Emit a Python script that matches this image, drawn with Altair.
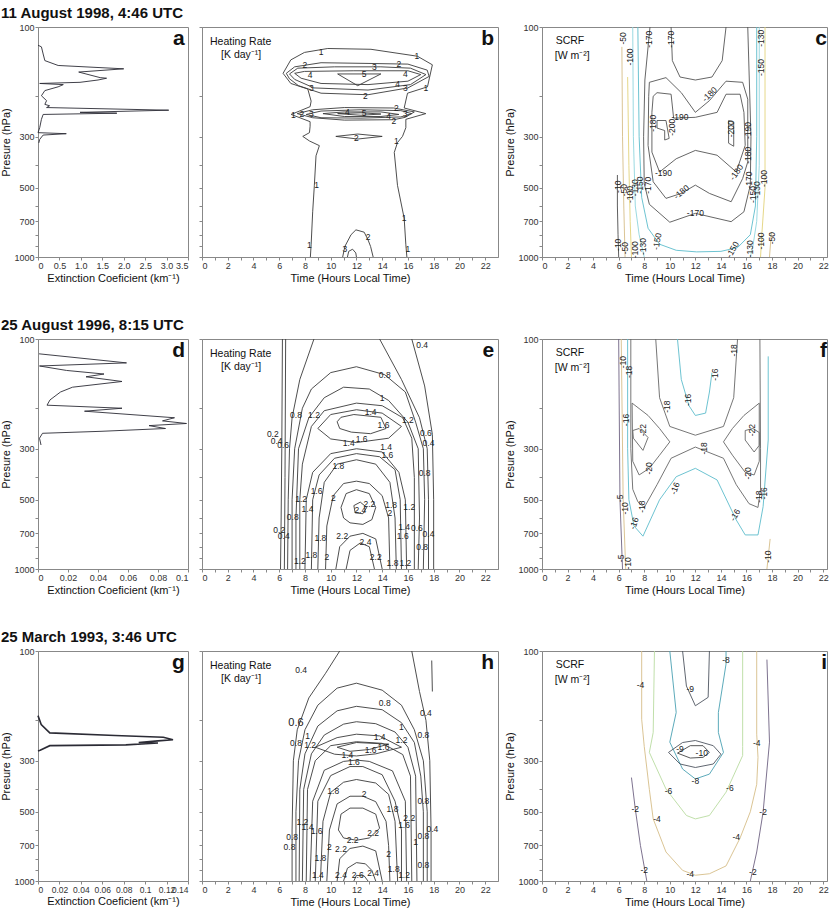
import altair as alt
import pandas as pd

FONT = "Liberation Sans"

# ---------------- titles ----------------
row_titles = ["11 August 1998, 4:46 UTC", "25 August 1996, 8:15 UTC", "25 March 1993, 3:46 UTC"]
letters = [["a", "b", "c"], ["d", "e", "f"], ["g", "h", "i"]]

# ---------------- extinction profiles (km-1, hPa) ----------------
a_ext = [0.0, 0.08, 0.12, 0.16, 0.47, 2.0, 0.95, 1.45, 1.6, 1.4, 0.98, 0.04, 0.59, 0.47, 0.16, 0.08, 0.2, 0.16,
         0.27, 0.2, 3.05, 0.98, 1.84, 0.12, 0.08, 0.04, 0.0, 0.66, 0.12, 0.04, 0.02]
a_pres = [120, 122, 131, 140, 147, 152, 157, 166, 167, 170, 174, 176, 178, 182, 189, 199, 209, 217,
          220, 224, 230, 235, 237, 240, 252, 274, 288, 291, 295, 308, 319]
d_ext = [0.0007, 0.059, 0.001, 0.019, 0.044, 0.032, 0.056, 0.023, 0.015, 0.008, 0.006, 0.056, 0.031,
         0.091, 0.083, 0.099, 0.074, 0.085, 0.042, 0.003, 0.001, 0.002]
d_pres = [116, 127, 131, 137, 142, 146, 153, 162, 170, 184, 194, 200, 206, 220, 227, 233, 238, 245, 252,
          257, 270, 289]
g_ext = [0.0, 0.003, 0.011, 0.072, 0.117, 0.126, 0.112, 0.094, 0.112, 0.082, 0.011, 0.002, 0.0]
g_pres = [191, 209, 227, 233, 237, 243, 246, 250, 251, 256, 258, 270, 272]

# ---------------- contour colours ----------------
K = "#3a3a3a"
TAN = "#d6bd88"
YEL = "#e2d27a"
CY1 = "#8fd5de"
CY2 = "#5cbccc"
PUR = "#6e6282"
GRN = "#b9dba0"
TEAL = "#4aa0b2"

# ---------------- panel b: heating rate, 11 Aug 1998 (hour, hPa) ----------------
b_lines = [
    ("1", K, [(8.42, 1000), (8.48, 885), (8.6, 636), (8.73, 488), (8.86, 363), (9.12, 328), (8.35, 313), (7.83, 299),
              (8.35, 288), (8.4, 270), (8.4, 258), (6.93, 240), (8.4, 222), (8.48, 210), (8.22, 186), (6.9, 176),
              (6.3, 159), (6.9, 139), (7.96, 129), (9.77, 124), (13.13, 125), (16.74, 134), (17.9, 146),
              (17.52, 182), (15.97, 194), (15.71, 225), (17.39, 238), (15.84, 252), (15.84, 274), (15.58, 299),
              (15.19, 318), (14.94, 351), (15.19, 488), (15.71, 679), (15.84, 885), (15.92, 1000)]),
    ("2", K, [(6.55, 159), (7.2, 149), (9.25, 143), (12.9, 144), (16.0, 145), (17.5, 154), (17.65, 164), (16.0, 184),
              (12.9, 197), (9.25, 194), (7.5, 180), (6.8, 168), (6.55, 159)]),
    ("3", K, [(6.8, 160), (7.44, 151), (10.3, 149), (13.9, 149), (16.2, 151), (17.4, 161), (16.2, 178), (12.9, 188),
              (8.7, 184), (7.2, 169), (6.8, 160)]),
    ("4", K, [(7.2, 159), (7.96, 156), (11.8, 155), (16.0, 155), (17.0, 161), (16.0, 172), (12.9, 178), (9.25, 176),
              (7.7, 167), (7.2, 159)]),
    ("5", K, [(10.54, 160), (13.9, 160), (12.1, 180), (10.54, 160)]),
    ("2", K, [(7.4, 238), (8.6, 229), (11.06, 224), (14.9, 225), (16.5, 234), (15.8, 247), (14.9, 253), (11.06, 254),
              (8.6, 248), (7.4, 238)]),
    ("3", K, [(8.1, 240), (9.25, 232), (12.35, 229), (15.45, 231), (16.3, 238), (15.45, 246), (12.35, 249),
              (9.25, 248), (8.1, 240)]),
    ("4", K, [(9.4, 238), (11.06, 234), (13.9, 234), (15.3, 240), (13.9, 245), (11.06, 245), (9.4, 238)]),
    ("5", K, [(10.54, 238), (12.35, 236), (13.9, 239), (12.35, 242), (10.54, 238)]),
    ("2", K, [(10.4, 299), (12.1, 292), (14.0, 299), (12.1, 307), (10.4, 299)]),
    ("2", K, [(10.93, 1000), (11.1, 900), (11.58, 800), (11.96, 762), (12.6, 780), (12.9, 842), (13.1, 900),
              (13.3, 1000)]),
    ("3", K, [(11.3, 1000), (11.4, 945), (11.7, 925), (11.95, 960), (12.0, 1000)]),
]
b_labels = [(9.25, 128, "1", 0), (16.7, 134, "1", 0), (8.0, 147, "2", 0), (13.4, 149, "3", 0), (15.3, 145, "2", 0),
            (8.4, 161, "4", 0), (12.6, 160, "5", 0), (15.8, 160, "4", 0), (15.2, 177, "4", 0), (8.5, 184, "3", 0),
            (15.8, 184, "3", 0), (17.4, 184, "1", 0), (12.7, 199, "2", 0), (7.1, 241, "1", 0), (7.75, 238, "2", 0),
            (8.5, 240, "3", 0), (11.3, 234, "4", 0), (12.6, 236, "5", 0), (15.1, 226, "2", 0), (15.8, 238, "3", 0),
            (14.5, 244, "4", 0), (14.9, 256, "2", 0), (12.0, 305, "2", 0), (15.1, 313, "1", 0), (8.9, 485, "1", 0),
            (15.7, 679, "1", 0), (8.35, 885, "1", 0), (12.9, 815, "2", 0), (11.1, 921, "3", 0), (16.0, 921, "1", 0)]

# ---------------- panel c: SCRF, 11 Aug 1998 ----------------
c_lines = [
    ("-10", "#4d4d4d", [(5.9, 440), (5.9, 600), (5.95, 800), (6.0, 1000)]),
    ("-50", TAN, [(6.25, 122), (6.3, 300), (6.4, 600), (6.5, 1000)]),
    ("-100", YEL, [(6.7, 165), (6.8, 400), (6.9, 700), (7.0, 1000)]),
    ("-130", CY1, [(7.1, 100), (7.15, 300), (7.3, 600), (7.6, 800), (8.0, 1000)]),
    ("-150", CY2, [(7.5, 100), (7.6, 300), (7.8, 550), (8.3, 750), (9.2, 880), (10.5, 935), (12.1, 950), (14.0, 945),
                   (15.3, 910), (16.3, 800), (16.7, 600), (16.8, 300), (16.8, 100)]),
    ("-130", CY1, [(17.0, 100), (17.0, 400), (16.8, 700), (16.5, 900), (16.3, 1000)]),
    ("-100", YEL, [(17.45, 100), (17.45, 500), (17.2, 800), (17.1, 1000)]),
    ("-50", TAN, [(17.95, 780), (17.8, 1000)]),
    ("-170", "#555555", [(8.45, 100), (8.05, 170), (7.95, 300), (8.0, 480), (8.4, 590), (10.0, 706), (12.0, 646),
                         (14.8, 702), (15.8, 636), (16.3, 487), (16.35, 300), (16.1, 100)]),
    ("-170", "#555555", [(10.1, 100), (10.2, 140), (10.8, 165), (12.0, 170), (13.3, 165), (14.1, 140), (14.4, 100)]),
    ("-180", "#555555", [(8.4, 174), (9.7, 166), (10.9, 193), (12.0, 235), (13.1, 209), (14.4, 172), (15.7, 174),
                         (16.1, 206), (16.1, 386), (15.7, 456), (14.8, 575), (13.1, 529), (12.0, 487), (10.9, 529),
                         (9.7, 556), (8.7, 471), (8.3, 327), (8.35, 200), (8.4, 174)]),
    ("-190", "#555555", [(9.0, 193), (10.1, 196), (10.3, 249), (12.0, 247), (13.7, 235), (14.4, 196), (15.5, 196),
                         (15.8, 235), (15.9, 327), (15.2, 427), (13.7, 361), (12.0, 344), (10.5, 374), (9.2, 427),
                         (8.6, 350), (8.6, 235), (8.7, 200), (9.0, 193)]),
    ("-200", "#555555", [(9.0, 255), (9.7, 255), (9.95, 305), (9.6, 310), (9.6, 282), (9.0, 275), (9.0, 255)]),
    ("-200", "#555555", [(14.6, 255), (15.0, 260), (15.0, 330), (14.6, 320), (14.6, 255)]),
]
c_labels = [(6.35, 112, "-50", 270), (6.9, 135, "-100", 270), (8.4, 113, "-170", 270), (10.1, 113, "-170", 270),
            (17.1, 112, "-130", 270), (17.1, 150, "-150", 270), (13.1, 196, "-180", 315), (10.8, 245, "-190", 0),
            (10.2, 273, "-200", 270), (14.8, 277, "-200", 270), (8.7, 262, "-180", 270), (16.1, 282, "-190", 270),
            (9.5, 432, "-190", 0), (15.2, 428, "-180", 305), (16.1, 361, "-180", 270), (10.9, 521, "-180", 320),
            (16.2, 463, "-170", 270), (12.0, 646, "-170", 0), (5.95, 495, "-10", 270), (6.4, 512, "-50", 270),
            (6.9, 535, "-100", 270), (7.3, 500, "-130", 270), (7.7, 487, "-150", 270), (8.3, 488, "-170", 270),
            (16.5, 535, "-150", 270), (16.85, 510, "-130", 270), (17.4, 456, "-100", 270), (5.95, 885, "-10", 270),
            (6.5, 915, "-50", 270), (7.3, 930, "-100", 270), (7.9, 900, "-130", 270), (9.0, 855, "-150", 280),
            (14.9, 929, "-150", 300), (16.3, 922, "-130", 270), (17.1, 853, "-100", 270), (18.0, 828, "-50", 270)]

# ---------------- panel e: heating rate, 25 Aug 1996 ----------------
e_lines = [
    ("0.2", K, [(6.25, 100), (6.2, 300), (6.15, 600), (6.1, 1000)]),
    ("0.4", K, [(6.5, 100), (6.45, 400), (6.4, 1000)]),
    ("0.4", K, [(16.3, 100), (17.3, 160), (17.9, 260), (18.0, 500), (18.0, 1000)]),
    ("0.6", K, [(8.7, 100), (7.6, 150), (7.0, 220), (6.8, 300), (6.7, 500), (6.65, 1000)]),
    ("0.6", K, [(13.8, 100), (15.5, 150), (16.9, 220), (17.5, 300), (17.6, 500), (17.6, 1000)]),
    ("0.8", K, [(7.0, 1000), (7.0, 500), (7.2, 300), (7.8, 200), (8.5, 165), (10.0, 140), (12.0, 132), (14.2, 143),
                (15.8, 170), (16.6, 230), (17.2, 300), (17.3, 500), (17.2, 1000)]),
    ("1", K, [(7.3, 1000), (7.3, 600), (7.5, 300), (8.3, 220), (9.5, 180), (11.0, 162), (13.0, 165), (14.5, 185),
              (16.0, 230), (16.8, 300), (16.9, 600), (16.8, 1000)]),
    ("1.2", K, [(7.6, 1000), (7.6, 500), (7.8, 350), (8.5, 240), (9.5, 205), (12.0, 190), (14.0, 195), (15.6, 220),
                (16.3, 270), (16.5, 400), (16.5, 1000)]),
    ("1.4", K, [(9.0, 245), (10.0, 213), (12.0, 203), (14.0, 210), (15.5, 240), (14.5, 270), (12.0, 282), (10.0, 272),
                (9.0, 245)]),
    ("1.6", K, [(10.5, 229), (10.8, 219), (11.8, 213), (13.9, 219), (14.3, 245), (13.1, 258), (11.6, 254),
                (10.7, 245), (10.5, 229)]),
    ("1.4", K, [(8.0, 1000), (8.1, 500), (8.6, 380), (10.0, 315), (12.0, 300), (14.0, 310), (15.3, 380), (15.8, 500),
                (15.9, 1000)]),
    ("1.6", K, [(8.5, 1000), (8.6, 500), (9.1, 390), (10.3, 330), (12.0, 315), (13.8, 325), (15.0, 370), (15.4, 500),
                (15.5, 1000)]),
    ("1.8", K, [(9.0, 1000), (9.1, 600), (9.5, 420), (10.5, 350), (12.0, 335), (13.5, 350), (14.6, 420), (15.0, 600),
                (15.1, 1000)]),
    ("2", K, [(9.6, 1000), (9.7, 650), (10.2, 480), (11.0, 425), (12.0, 415), (13.0, 425), (14.0, 480), (14.5, 600),
              (14.6, 1000)]),
    ("2.2", K, [(10.8, 540), (11.2, 470), (12.0, 452), (13.0, 470), (13.5, 540), (13.2, 610), (12.5, 640),
                (11.5, 630), (11.0, 600), (10.8, 540)]),
    ("2.4", K, [(11.8, 530), (12.3, 512), (12.8, 540), (12.5, 575), (11.9, 570), (11.8, 530)]),
    ("2.2", K, [(10.4, 1000), (10.7, 800), (11.5, 720), (12.5, 700), (13.5, 740), (14.0, 1000)]),
    ("2.4", K, [(11.2, 1000), (11.5, 830), (12.3, 770), (13.0, 800), (13.4, 1000)]),
]
e_labels = [(17.1, 106, "0.4", 0), (14.2, 143, "0.8", 0), (14.0, 181, "1", 0), (7.3, 214, "0.8", 0),
            (8.7, 214, "1.2", 0), (13.1, 207, "1.4", 0), (16.0, 225, "1.2", 0), (14.1, 237, "1.6", 0),
            (5.5, 259, "0.2", 0), (5.8, 277, "0.4", 0), (6.3, 289, "0.6", 0), (11.4, 282, "1.4", 0),
            (12.4, 273, "1.6", 0), (17.4, 255, "0.6", 0), (17.6, 284, "0.4", 0), (14.3, 294, "1.4", 0),
            (14.4, 319, "1.6", 0), (10.6, 357, "1.8", 0), (17.3, 381, "0.8", 0), (8.9, 458, "1.6", 0),
            (10.2, 493, "2", 0), (7.7, 498, "1.2", 0), (8.2, 551, "1.4", 0), (13.0, 523, "2.2", 0),
            (12.3, 554, "2.4", 0), (14.7, 527, "1.8", 0), (16.1, 536, "1.2", 0), (14.6, 573, "2", 0),
            (7.05, 592, "0.8", 0), (6.0, 677, "0.2", 0), (6.35, 719, "0.4", 0), (15.7, 658, "1.4", 0),
            (15.6, 719, "1.6", 0), (16.7, 666, "0.6", 0), (17.6, 706, "0.4", 0), (10.9, 719, "2.2", 0),
            (9.2, 731, "1.8", 0), (12.7, 764, "2.4", 0), (17.1, 806, "0.8", 0), (8.5, 868, "1.8", 0),
            (9.7, 890, "2", 0), (7.6, 920, "1.2", 0), (13.5, 883, "2.2", 0), (14.8, 938, "1.8", 0),
            (15.8, 945, "1.2", 0)]

# ---------------- panel f: SCRF, 25 Aug 1996 ----------------
f_lines = [
    ("-5", PUR, [(6.0, 100), (6.1, 500), (6.3, 1000)]),
    ("-10", TAN, [(6.2, 100), (6.35, 500), (6.55, 1000)]),
    ("-10", TAN, [(17.85, 740), (17.6, 1000)]),
    ("-16", CY2, [(6.7, 100), (6.7, 300), (6.8, 500), (7.2, 650), (7.9, 720), (9.2, 500), (10.5, 397), (12.0, 365),
                  (13.7, 410), (15.2, 612), (15.9, 711), (16.9, 711), (17.3, 536), (17.7, 275), (17.7, 119)]),
    ("-16", CY2, [(10.6, 100), (10.9, 150), (11.5, 195), (12.0, 215), (12.8, 210), (13.1, 170), (13.3, 140)]),
    ("-18", "#666666", [(8.9, 100), (9.2, 180), (10.0, 240), (12.0, 262), (14.2, 240), (15.0, 180), (15.3, 100)]),
    ("-18", "#666666", [(6.95, 100), (6.95, 300), (7.1, 450), (7.5, 510), (8.0, 540), (9.0, 430), (10.1, 330),
                        (12.0, 295), (14.2, 330), (15.2, 430), (16.2, 520), (16.9, 540), (17.1, 450), (17.1, 300),
                        (17.05, 100)]),
    ("-20", "#666666", [(7.05, 190), (8.3, 215), (9.2, 245), (10.0, 280), (9.2, 320), (8.4, 365), (7.6, 390),
                        (7.1, 340), (7.05, 190)]),
    ("-20", "#666666", [(17.0, 190), (15.8, 215), (14.9, 245), (14.2, 280), (14.9, 320), (15.9, 380), (16.6, 390),
                        (17.0, 340), (17.0, 190)]),
    ("-22", "#666666", [(7.1, 250), (7.6, 245), (8.3, 268), (7.9, 305), (7.15, 270), (7.1, 250)]),
    ("-22", "#666666", [(15.9, 250), (16.5, 245), (17.0, 255), (17.0, 290), (16.6, 310), (15.9, 275), (15.9, 250)]),
]
f_labels = [(6.3, 126, "-10", 270), (6.8, 139, "-18", 270), (15.0, 112, "-18", 270), (13.5, 143, "-16", 270),
            (11.4, 184, "-16", 270), (9.8, 197, "-18", 270), (6.6, 225, "-16", 270), (7.9, 249, "-22", 270),
            (16.4, 249, "-22", 270), (12.7, 299, "-18", 270), (8.4, 365, "-20", 270), (16.1, 384, "-20", 270),
            (10.4, 446, "-16", 290), (17.4, 469, "-16", 270), (6.1, 493, "-5", 270), (17.0, 485, "-18", 270),
            (7.8, 536, "-18", 270), (6.5, 545, "-10", 270), (7.2, 633, "-16", 290), (15.1, 582, "-16", 300),
            (6.2, 899, "-5", 270), (6.7, 945, "-10", 270), (17.7, 884, "-10", 270)]

# ---------------- panel h: heating rate, 25 Mar 1993 ----------------
h_lines = [
    ("0.4", K, [(10.7, 100), (9.6, 125), (8.3, 160), (7.4, 220), (7.1, 300), (7.0, 600), (7.0, 1000)]),
    ("0.4", K, [(16.3, 100), (16.9, 150), (17.4, 200), (17.7, 300), (17.8, 600), (17.8, 1000)]),
    ("0.4", K, [(17.85, 110), (17.9, 150)]),
    ("0.6", K, [(7.3, 1000), (7.3, 500), (7.5, 300), (8.0, 220), (9.0, 172), (10.5, 145), (12.0, 138), (14.0, 148),
                (15.5, 172), (16.5, 220), (17.2, 300), (17.5, 500), (17.5, 1000)]),
    ("0.8", K, [(7.55, 1000), (7.6, 400), (8.0, 280), (9.0, 212), (10.5, 182), (12.0, 174), (14.0, 180), (15.5, 205),
                (16.5, 250), (17.0, 350), (17.2, 500), (17.2, 1000)]),
    ("1", K, [(7.8, 1000), (7.9, 400), (8.5, 280), (9.5, 232), (11.0, 208), (12.0, 203), (13.5, 207), (15.0, 225),
              (16.0, 262), (16.6, 350), (16.7, 1000)]),
    ("1.2", K, [(8.1, 1000), (8.2, 400), (8.8, 300), (10.0, 258), (12.0, 248), (14.0, 252), (15.6, 282), (16.2, 350),
                (16.3, 1000)]),
    ("1.4", K, [(8.8, 262), (10.5, 238), (12.0, 230), (13.8, 234), (15.5, 262), (13.5, 280), (12.0, 286), (10.3, 281),
                (8.8, 262)]),
    ("1.6", K, [(10.5, 262), (12.0, 250), (14.5, 254), (13.0, 268), (11.5, 273), (10.5, 262)]),
    ("1.4", K, [(8.4, 1000), (8.6, 450), (9.5, 330), (11.0, 302), (12.0, 298), (13.0, 302), (14.8, 332), (15.8, 450),
                (15.9, 1000)]),
    ("1.6", K, [(8.8, 1000), (9.0, 450), (10.0, 348), (11.5, 318), (12.5, 318), (14.0, 345), (15.0, 450), (15.5, 600),
                (15.5, 1000)]),
    ("1.8", K, [(9.2, 1000), (9.4, 550), (10.0, 412), (11.0, 372), (12.0, 362), (13.5, 375), (14.5, 420), (15.0, 550),
                (15.2, 1000)]),
    ("2", K, [(9.7, 1000), (9.9, 600), (10.5, 462), (11.5, 428), (12.5, 428), (13.5, 452), (14.3, 550), (14.5, 700),
              (14.6, 1000)]),
    ("2.2", K, [(10.6, 600), (10.8, 512), (11.5, 482), (12.5, 482), (13.5, 512), (13.8, 590), (13.0, 650),
                (12.0, 665), (11.0, 650), (10.6, 600)]),
    ("2.2", K, [(10.5, 1000), (10.7, 800), (11.5, 722), (12.5, 705), (13.5, 740), (14.0, 1000)]),
    ("2.4", K, [(11.0, 1000), (11.3, 880), (12.0, 832), (12.7, 842), (13.2, 900), (13.5, 1000)]),
    ("2.6", K, [(11.8, 1000), (12.0, 945), (12.6, 950), (12.9, 1000)]),
]
h_labels = [(7.7, 121, "0.4", 0), (14.2, 168, "0.8", 0), (17.4, 186, "0.4", 0), (15.5, 214, "1", 0),
            (17.2, 233, "0.8", 0), (8.2, 235, "1", 0), (13.8, 236, "1.4", 0), (15.5, 243, "1.2", 0),
            (7.3, 252, "0.8", 0), (8.4, 257, "1.2", 0), (13.1, 270, "1.6", 0), (14.1, 261, "1.6", 0),
            (11.3, 282, "1.4", 0), (11.8, 304, "1.6", 0), (10.2, 406, "1.8", 0), (12.6, 419, "2", 0),
            (17.2, 451, "0.8", 0), (14.8, 486, "1.8", 0), (7.8, 556, "1.2", 0), (8.2, 585, "1.4", 0),
            (8.9, 604, "1.6", 0), (16.1, 534, "2.2", 0), (15.7, 571, "1.6", 0), (17.9, 594, "0.4", 0),
            (13.3, 618, "2.2", 0), (7.0, 645, "0.8", 0), (17.2, 638, "0.8", 0), (11.7, 661, "2.2", 0),
            (6.8, 713, "0.8", 0), (9.9, 713, "2", 0), (10.8, 725, "2.2", 0), (16.6, 678, "1", 0),
            (14.5, 762, "2", 0), (9.2, 794, "1.8", 0), (14.9, 885, "1.8", 0), (17.2, 855, "0.8", 0),
            (9.0, 946, "1.4", 0), (10.8, 940, "2.4", 0), (12.1, 940, "2.6", 0), (13.3, 921, "2.4", 0),
            (15.7, 940, "1.2", 0)]
h_big_labels = [(7.3, 205, "0.6", 0)]

# ---------------- panel i: SCRF, 25 Mar 1993 ----------------
i_lines = [
    ("-2", PUR, [(7.0, 355), (7.3, 486), (7.7, 700), (8.2, 1000)]),
    ("-2", PUR, [(17.6, 109), (17.8, 249), (17.3, 502), (16.8, 748), (16.3, 1000)]),
    ("-4", TAN, [(7.8, 100), (7.8, 198), (8.0, 260), (8.4, 400), (8.7, 537), (9.7, 748), (11.0, 899), (12.0, 944),
                 (13.1, 930), (14.4, 860), (15.5, 650), (16.3, 500), (16.8, 380), (16.9, 290), (16.8, 230),
                 (16.8, 100)]),
    ("-6", GRN, [(8.8, 100), (8.7, 226), (8.4, 276), (9.7, 398), (11.3, 519), (12.0, 537), (13.1, 519), (14.4, 411),
                 (15.7, 285), (15.7, 260), (15.7, 100)]),
    ("-8", TEAL, [(10.0, 100), (10.5, 185), (10.0, 249), (11.0, 326), (12.0, 360), (13.1, 343), (14.2, 276),
                  (13.8, 226), (13.8, 185), (14.4, 114), (14.4, 100)]),
    ("-9", "#4e5560", [(11.0, 100), (11.3, 142), (12.0, 173), (13.0, 159), (13.1, 100)]),
    ("-9", "#4e5560", [(9.9, 276), (11.0, 250), (12.0, 245), (13.4, 258), (14.0, 281), (13.4, 310), (12.0, 321),
                       (10.8, 310), (9.9, 276)]),
    ("-10", "#444444", [(10.6, 278), (11.6, 258), (12.6, 258), (13.1, 276), (12.6, 290), (11.6, 292), (10.6, 278)]),
]
i_labels = [(14.4, 109, "-8", 0), (7.7, 140, "-4", 0), (11.6, 147, "-9", 0), (16.8, 250, "-4", 0),
            (10.8, 267, "-9", 0), (12.5, 278, "-10", 0), (12.0, 366, "-8", 0), (9.9, 405, "-6", 0),
            (14.7, 395, "-6", 0), (7.3, 486, "-2", 0), (17.3, 502, "-2", 0), (9.0, 537, "-4", 0),
            (15.2, 645, "-4", 0), (8.0, 899, "-2", 0), (11.6, 929, "-4", 0), (16.5, 914, "-2", 0)]

# ---------------- axes ----------------
P_TICKS = [100, 200, 300, 400, 500, 600, 700, 800, 900, 1000]
H_TICKS = list(range(0, 23))
YS = alt.Scale(type="log", domain=[100, 1000], reverse=True, nice=False)
P_EXPR = "indexof([100, 300, 500, 700, 1000], datum.value) >= 0 ? '' + datum.value : ''"
H_EXPR = "datum.value % 2 == 0 ? '' + datum.value : ''"

H = 230
W_EXT, W_HR, W_SC = 150, 296, 285
GAP_EXTRA = 16          # extra room between heating-rate and SCRF columns
HR_DOMAIN = [0, 23]
SC_DOMAIN = [0, 22.3]


def y_enc(show):
    if show:
        ax = alt.Axis(values=P_TICKS, labelExpr=P_EXPR, title="Presure (hPa)")
    else:
        ax = alt.Axis(values=P_TICKS, labels=False, title=None)
    return alt.Y("p:Q", scale=YS, axis=ax)


def x_time(domain):
    return alt.X("x:Q", scale=alt.Scale(domain=domain, nice=False),
                 axis=alt.Axis(values=H_TICKS, labelExpr=H_EXPR, title="Time (Hours Local Time)"))


def x_ext(domain, ticks, expr, size):
    return alt.X("x:Q", scale=alt.Scale(domain=domain, nice=False),
                 axis=alt.Axis(values=ticks, labelExpr=expr, labelFontSize=size,
                               title="Extinction Coeficient (km\u207b\u00b9)"))


def text_layer(rows, xe, ye, size=8.5, align="center", weight="normal", color="#222222"):
    df = pd.DataFrame(rows, columns=["x", "p", "text", "ang"])
    return alt.Chart(df).mark_text(font=FONT, fontSize=size, align=align, baseline="middle",
                                   fontWeight=weight, color=color).encode(
        x=xe, y=ye, text="text:N", angle=alt.Angle("ang:Q", scale=None))


def contour_panel(lines, labels, xe, ye, note1, note2, letter_x, letter, width, extra=None):
    rows = []
    for cid, (lvl, col, pts) in enumerate(lines):
        for k, (hh, pp) in enumerate(pts):
            rows.append({"cid": cid, "k": k, "x": hh, "p": pp, "col": col, "lvl": lvl})
    df = pd.DataFrame(rows)
    lines_l = alt.Chart(df).mark_line(strokeWidth=0.9, clip=True).encode(
        x=xe, y=ye, detail="cid:N", order="k:Q", color=alt.Color("col:N", scale=None))
    layers = [lines_l, text_layer(labels, xe, ye)]
    if extra:
        layers.append(text_layer(extra, xe, ye, size=11))
    layers.append(text_layer([(note1[0], note1[1], note1[2], 0), (note2[0], note2[1], note2[2], 0)], xe, ye,
                             size=10.5, align="left", color="#111111"))
    layers.append(text_layer([(letter_x, 113, letter, 0)], xe, ye, size=21, align="right", weight="bold",
                             color="#111111"))
    return alt.layer(*layers).properties(width=width, height=H)


def ext_panel(vals, pres, xe, ye, letter, letter_x, title, lw):
    df = pd.DataFrame({"x": vals, "p": pres, "k": list(range(len(vals)))})
    line = alt.Chart(df).mark_line(strokeWidth=lw, color="#2b2b35").encode(x=xe, y=ye, order="k:Q")
    let = text_layer([(letter_x, 113, letter, 0)], xe, ye, size=21, align="right", weight="bold", color="#111111")
    return alt.layer(line, let).properties(
        width=W_EXT, height=H,
        title=alt.Title(title, anchor="start", frame="bounds", fontSize=15, fontWeight="bold", font=FONT,
                        color="#111111", offset=2))


def spacer():
    df = pd.DataFrame({"x": [0], "p": [500]})
    return alt.Chart(df).mark_point(opacity=0).encode(
        x=alt.X("x:Q", axis=None), y=alt.Y("p:Q", axis=None)
    ).properties(width=GAP_EXTRA, height=H, view=alt.ViewBackground(stroke="transparent"))


HR_NOTE = ((0.62, 116, "Heating Rate"), (1.48, 133, "[K day\u207b\u00b9]"))
SC_NOTE = ((1.07, 115, "SCRF"), (1.0, 134, "[W m\u207b\u00b2]"))

exts = [
    (a_ext, a_pres, [0, 3.5], [0, 0.5, 1, 1.5, 2, 2.5, 3, 3.5],
     "datum.value == 0 ? '0' : format(datum.value, '.1f')", 3.42, 0.9, 9),
    (d_ext, d_pres, [0, 0.1], [0, 0.02, 0.04, 0.06, 0.08, 0.1], "format(datum.value, '~g')", 0.098, 0.9, 9),
    (g_ext, g_pres, [0, 0.14], [0, 0.02, 0.04, 0.06, 0.08, 0.1, 0.12, 0.14], "format(datum.value, '~g')", 0.137,
     1.6, 8.5),
]
hrs = [(b_lines, b_labels, None), (e_lines, e_labels, None), (h_lines, h_labels, h_big_labels)]
scs = [(c_lines, c_labels), (f_lines, f_labels), (i_lines, i_labels)]

cells = []
for r in range(3):
    vals, pres, dom, ticks, expr, lx, lw, lsz = exts[r]
    pa = ext_panel(vals, pres, x_ext(dom, ticks, expr, lsz), y_enc(True), letters[r][0], lx, row_titles[r], lw)
    hl, hlab, hbig = hrs[r]
    pb = contour_panel(hl, hlab, x_time(HR_DOMAIN), y_enc(False), HR_NOTE[0], HR_NOTE[1], 22.7,
                       letters[r][1], W_HR, extra=hbig)
    sl, slab = scs[r]
    pc = contour_panel(sl, slab, x_time(SC_DOMAIN), y_enc(True), SC_NOTE[0], SC_NOTE[1], 22.3,
                       letters[r][2], W_SC)
    cells += [pa, pb, spacer(), pc]

chart = alt.concat(*cells, columns=4, spacing={"row": 82, "column": 14}, bounds="flush").properties(
    padding={"left": 0, "top": 5, "right": 0, "bottom": 0}
).configure_axis(
    labelFont=FONT, labelFontSize=9, labelColor="#333333", titleFont=FONT, titleFontSize=11,
    titleFontWeight="normal", titleColor="#111111", tickColor="#888888", tickSize=3, domainColor="#888888",
    grid=False, labelPadding=1, titlePadding=2, labelOverlap=False
).configure_view(stroke="#888888", strokeWidth=1)

chart.save("out.html", embed_options={"renderer": "svg", "actions": False})
